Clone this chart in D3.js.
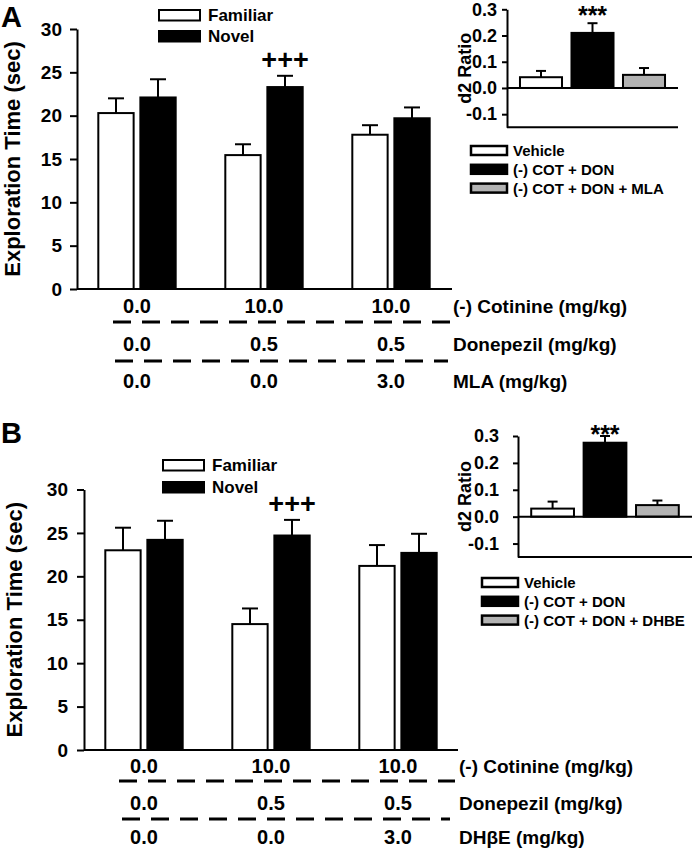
<!DOCTYPE html>
<html><head><meta charset="utf-8">
<script src="https://cdn.jsdelivr.net/npm/d3@7"></script>
<style>
body{margin:0;background:#fff}
svg{display:block;background:#fff}
text{font-family:"Liberation Sans",Arial,Helvetica,sans-serif;font-weight:bold;fill:#000}
</style>
</head><body><svg id="c" width="694" height="849"></svg>
<script>
// ---------- data ----------
const groups = ["Vehicle", "(-) COT + DON", "(-) COT + DON + antagonist"];
const seriesNames = ["Familiar", "Novel"];
const yTicksMain = [0, 5, 10, 15, 20, 25, 30];
const yTicksInset = [-0.1, 0, 0.1, 0.2, 0.3];

const familiarA = [20.3, 15.45, 17.8];
const familiarErrA = [1.7, 1.25, 1.1];
const novelA = [22.1, 23.3, 19.7];
const novelErrA = [2.1, 1.3, 1.25];

const familiarB = [23.0, 14.5, 21.2];
const familiarErrB = [2.6, 1.8, 2.4];
const novelB = [24.2, 24.7, 22.7];
const novelErrB = [2.2, 1.8, 2.2];

const d2A = [0.041, 0.21, 0.05];
const d2ErrA = [0.024, 0.037, 0.026];
const d2B = [0.03, 0.275, 0.043];
const d2ErrB = [0.026, 0.025, 0.017];

const insetLegendA = ["Vehicle", "(-) COT + DON", "(-) COT + DON + MLA"];
const insetLegendB = ["Vehicle", "(-) COT + DON", "(-) COT + DON + DHBE"];

const cotinine = ["0.0", "10.0", "10.0"];
const donepezil = ["0.0", "0.5", "0.5"];
const antagonist = ["0.0", "0.0", "3.0"];
const rowLabelsA = ["(-) Cotinine (mg/kg)", "Donepezil (mg/kg)", "MLA (mg/kg)"];
const rowLabelsB = ["(-) Cotinine (mg/kg)", "Donepezil (mg/kg)", "DH\u03B2E (mg/kg)"];
const sigMain = "+++";
const sigInset = "***";
const yLabelMain = "Exploration Time (sec)";
const yLabelInset = "d2 Ratio";
const seriesFills = ["#ffffff", "#000000"];
const insetFills = ["#ffffff", "#000000", "#b3b3b3"];

// ---------- layout ----------
const layoutA = {
  letter: "A", letterX: 1, letterY: 27,
  axisX: 77, xEnd: 452, y0: 289, yTop: 29, bandX0: 73.5, tickPad: 8, ylabX: 20,
  legX: 159, legY: [10, 31],
  rowDy: [24, 62, 99], dashDy: [33, 72], dash: [[113, 450], [115, 448]], rowLabelX: 453,
  ix0: 507, ix1: 678, iyBottom: 127.3, iyTop: 9.3, itickPad: 5, starY: 23.5, ilegTop: 146, ilabX: 471
};
const layoutB = {
  letter: "B", letterX: 1, letterY: 443,
  axisX: 84, xEnd: 458, y0: 750, yTop: 489.5, bandX0: 80.5, tickPad: 9, ylabX: 22,
  legX: 163, legY: [460, 482],
  rowDy: [23, 60, 94], dashDy: [31, 69], dash: [[119, 455], [122, 450]], rowLabelX: 459,
  ix0: 518, ix1: 692, iyBottom: 557, iyTop: 436, itickPad: 14, starY: 443, ilegTop: 578, ilabX: 471
};

const svg = d3.select("#c");

function drawPanel(L, fam, famErr, nov, novErr, d2, d2Err, insetLegend, rowLabels) {
  const g = svg.append("g");
  const y = d3.scaleLinear().domain([0, 30]).range([L.y0, L.yTop]);
  const x = d3.scaleBand().domain(groups).range([L.bandX0, L.bandX0 + 381]);
  const xs = d3.scaleBand().domain(seriesNames).range([0, x.bandwidth()]).paddingInner(0.16).paddingOuter(0.59);
  const series = [{name: "Familiar", v: fam, e: famErr, fill: seriesFills[0]},
                  {name: "Novel", v: nov, e: novErr, fill: seriesFills[1]}];

  // error bars
  series.forEach(s => {
    groups.forEach((gr, i) => {
      const cx = x(gr) + xs(s.name) + xs.bandwidth() / 2;
      g.append("line").attr("x1", cx).attr("x2", cx).attr("y1", y(s.v[i])).attr("y2", y(s.v[i] + s.e[i]))
        .attr("stroke", "#000").attr("stroke-width", 2);
      g.append("line").attr("x1", cx - 8).attr("x2", cx + 8).attr("y1", y(s.v[i] + s.e[i])).attr("y2", y(s.v[i] + s.e[i]))
        .attr("stroke", "#000").attr("stroke-width", 2);
    });
  });
  // bars
  series.forEach(s => {
    g.selectAll(null).data(groups).enter().append("rect")
      .attr("x", gr => x(gr) + xs(s.name))
      .attr("y", (gr, i) => y(s.v[i]))
      .attr("width", xs.bandwidth())
      .attr("height", (gr, i) => y(0) - y(s.v[i]))
      .attr("fill", s.fill).attr("stroke", "#000").attr("stroke-width", 2);
  });

  // y axis
  const ya = g.append("g").attr("transform", `translate(${L.axisX},0)`)
    .call(d3.axisLeft(y).tickValues(yTicksMain).tickSize(7).tickSizeOuter(0).tickPadding(L.tickPad));
  ya.select(".domain").attr("stroke-width", 2);
  ya.selectAll(".tick line").attr("stroke-width", 2);
  ya.selectAll(".tick text").style("font-size", "19px");
  // x axis line
  g.append("line").attr("x1", L.axisX).attr("x2", L.xEnd).attr("y1", y(0)).attr("y2", y(0))
    .attr("stroke", "#000").attr("stroke-width", 2);

  // y label
  g.append("text").attr("transform", `translate(${L.ylabX},${(L.y0 + L.yTop) / 2}) rotate(-90)`)
    .attr("text-anchor", "middle").style("font-size", "22px").text(yLabelMain);

  // panel letter
  g.append("text").attr("x", L.letterX).attr("y", L.letterY).style("font-size", "29px").text(L.letter);

  // significance
  const cx2 = x(groups[1]) + xs("Novel") + xs.bandwidth() / 2;
  g.append("text").attr("x", cx2).attr("y", y(nov[1] + novErr[1]) - 6.5)
    .attr("text-anchor", "middle").style("font-size", "27px").text(sigMain);

  // legend
  series.forEach((s, k) => {
    g.append("rect").attr("x", L.legX).attr("y", L.legY[k]).attr("width", 41).attr("height", 10.5)
      .attr("fill", s.fill).attr("stroke", "#000").attr("stroke-width", 2);
    g.append("text").attr("x", L.legX + 49).attr("y", L.legY[k] + 10.8)
      .style("font-size", "17px").text(s.name);
  });

  // treatment rows
  const rows = [cotinine, donepezil, antagonist];
  rows.forEach((vals, r) => {
    const by = L.y0 + L.rowDy[r];
    g.selectAll(null).data(groups).enter().append("text")
      .attr("x", gr => x(gr) + x.bandwidth() / 2).attr("y", by)
      .attr("text-anchor", "middle").style("font-size", "20px")
      .text((gr, i) => vals[i]);
    g.append("text").attr("x", L.rowLabelX).attr("y", by).style("font-size", "19px").text(rowLabels[r]);
  });
  L.dashDy.forEach((dy, k) => {
    g.append("line").attr("x1", L.dash[k][0]).attr("x2", L.dash[k][1])
      .attr("y1", L.y0 + dy).attr("y2", L.y0 + dy)
      .attr("stroke", "#000").attr("stroke-width", 3).attr("stroke-dasharray", "18,11");
  });

  // ---------- inset ----------
  const yi = d3.scaleLinear().domain([-0.15, 0.3]).range([L.iyBottom, L.iyTop]);
  const xi = d3.scaleBand().domain(groups).range([L.ix0, L.ix1]).paddingInner(0.184).paddingOuter(0.252);
  groups.forEach((gr, i) => {
    const cx = xi(gr) + xi.bandwidth() / 2;
    g.append("line").attr("x1", cx).attr("x2", cx).attr("y1", yi(d2[i])).attr("y2", yi(d2[i] + d2Err[i]))
      .attr("stroke", "#000").attr("stroke-width", 2);
    g.append("line").attr("x1", cx - 5).attr("x2", cx + 5).attr("y1", yi(d2[i] + d2Err[i])).attr("y2", yi(d2[i] + d2Err[i]))
      .attr("stroke", "#000").attr("stroke-width", 2);
  });
  g.selectAll(null).data(groups).enter().append("rect")
    .attr("x", gr => xi(gr)).attr("y", (gr, i) => yi(d2[i]))
    .attr("width", xi.bandwidth()).attr("height", (gr, i) => yi(0) - yi(d2[i]))
    .attr("fill", (gr, i) => insetFills[i]).attr("stroke", "#000").attr("stroke-width", 2);
  const yia = g.append("g").attr("transform", `translate(${L.ix0},0)`)
    .call(d3.axisLeft(yi).tickValues(yTicksInset).tickFormat(d => d.toFixed(1)).tickSize(5).tickSizeOuter(0).tickPadding(L.itickPad));
  yia.select(".domain").attr("stroke-width", 2);
  yia.selectAll(".tick line").attr("stroke-width", 2);
  yia.selectAll(".tick text").style("font-size", "18px");
  g.append("line").attr("x1", L.ix0).attr("x2", L.ix1).attr("y1", yi(0)).attr("y2", yi(0))
    .attr("stroke", "#000").attr("stroke-width", 2);
  g.append("line").attr("x1", L.ix0).attr("x2", L.ix1).attr("y1", yi(-0.15)).attr("y2", yi(-0.15))
    .attr("stroke", "#000").attr("stroke-width", 2);
  g.append("text").attr("transform", `translate(${L.ilabX},${(L.iyBottom + L.iyTop) / 2}) rotate(-90)`)
    .attr("text-anchor", "middle").style("font-size", "18px").text(yLabelInset);
  g.append("text").attr("x", xi(groups[1]) + xi.bandwidth() / 2).attr("y", L.starY)
    .attr("text-anchor", "middle").style("font-size", "25px").text(sigInset);
  insetLegend.forEach((lab, k) => {
    const ty = L.ilegTop + k * 18.8;
    g.append("rect").attr("x", L.ix0 - 36).attr("y", ty).attr("width", 36).attr("height", 9)
      .attr("fill", insetFills[k]).attr("stroke", "#000").attr("stroke-width", 2.5);
    g.append("text").attr("x", L.ix0 + 6).attr("y", ty + 10).style("font-size", "15px").text(lab);
  });
}

drawPanel(layoutA, familiarA, familiarErrA, novelA, novelErrA, d2A, d2ErrA, insetLegendA, rowLabelsA);
drawPanel(layoutB, familiarB, familiarErrB, novelB, novelErrB, d2B, d2ErrB, insetLegendB, rowLabelsB);
</script>
</body></html>
